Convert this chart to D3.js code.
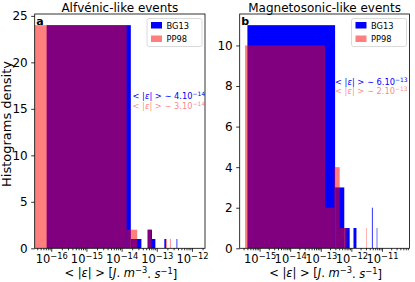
<!DOCTYPE html>
<html>
<head>
<meta charset="utf-8">
<script src="https://cdn.jsdelivr.net/npm/d3@7"></script>
<style>
  body { margin: 0; background: #fff; }
  text { font-family: "DejaVu Sans", sans-serif; }
</style>
</head>
<body>
<div id="chart"></div>
<script>
// panel a: Alfvénic-like events (linear-width bins, [first edge, last edge] + counts)
const alfBG13Range = [7.4e-17, 3.823e-13]
const alfBG13Counts = [24, 1, 0, 2, 1, 0, 0, 0, 0, 1, 0, 0, 0, 0, 0, 0, 0, 0, 0, 0, 1]
const alfPP98Range = [3e-17, 2.772e-13]
const alfPP98Counts = [24, 2, 0, 0, 2, 0, 0, 0, 0, 0, 0, 0, 0, 1, 0, 0, 0, 1, 0, 0]

// panel b: Magnetosonic-like events
const magBG13Range = [4e-16, 7.032e-12]
const magBG13Counts = [11, 3, 1, 0, 1, 0, 0, 0, 0, 0, 0, 0, 0, 0, 0, 0, 2, 0, 0, 0, 0, 0, 0, 1]
const magPP98Range = [3.36e-16, 3.1835e-12]
const magPP98Counts = [10, 2, 4, 1, 1, 0, 0, 0, 0, 0, 0, 0, 0, 0, 0, 0, 0, 0, 0, 0, 0, 0, 1]

const titles = ['Alfvénic-like events', 'Magnetosonic-like events']
const letters = ['a', 'b']
const seriesNames = ['BG13', 'PP98']
// mean dissipation annotations: [mantissa, exponent] for BG13 then PP98
const alfMeans = [['4.10', '−14'], ['3.10', '−14']]
const magMeans = [['6.10', '−13'], ['2.10', '−13']]

const xLimits = [[Math.pow(10, -16.47), Math.pow(10, -11.63)], [Math.pow(10, -15.65), Math.pow(10, -10.1)]]
const yLimits = [[0, 25.2], [0, 11.55]]
const yTickValues = [d3.range(0, 26, 5), d3.range(0, 11, 2)]

const width = 415, height = 282
const colors = { BG13: '#0000ff', PP98: '#ff0000' }

const svg = d3.select('#chart').append('svg')
  .attr('width', width).attr('height', height)

const panels = [
  { left: 34.7, right: 205, bg: [alfBG13Range, alfBG13Counts], pp: [alfPP98Range, alfPP98Counts], means: alfMeans, meanX: 132.5, meanY: 99 },
  { left: 239.7, right: 409.5, bg: [magBG13Range, magBG13Counts], pp: [magPP98Range, magPP98Counts], means: magMeans, meanX: 335, meanY: 84.5 },
]
const plotTop = 14, plotBottom = 248.3

function bins(range, counts) {
  const w = (range[1] - range[0]) / counts.length
  return counts.map((c, i) => ({ x0: range[0] + i * w, x1: range[0] + (i + 1) * w, count: c }))
    .filter(d => d.count > 0)
}

panels.forEach((p, pi) => {
  const x = d3.scaleLog().domain(xLimits[pi]).range([p.left, p.right])
  const y = d3.scaleLinear().domain(yLimits[pi]).range([plotBottom, plotTop])

  const g = svg.append('g')
  g.append('clipPath').attr('id', 'clip' + pi)
    .append('rect').attr('x', p.left).attr('y', plotTop)
    .attr('width', p.right - p.left).attr('height', plotBottom - plotTop)

  const plot = g.append('g').attr('clip-path', `url(#clip${pi})`)
  const drawHist = (data, color, opacity) => {
    plot.append('g').attr('fill', color).attr('fill-opacity', opacity)
      .selectAll('rect')
      .data(bins(data[0], data[1]))
      .join('rect')
      .attr('x', d => x(d.x0))
      .attr('width', d => x(d.x1) - x(d.x0))
      .attr('y', d => y(d.count))
      .attr('height', d => y(0) - y(d.count))
  }
  drawHist(p.bg, colors.BG13, 1)
  drawHist(p.pp, colors.PP98, 0.5)

  // x axis: decades + minor ticks
  const lo = Math.ceil(Math.log10(xLimits[pi][0])), hi = Math.floor(Math.log10(xLimits[pi][1]))
  const majors = d3.range(lo, hi + 1).map(e => Math.pow(10, e))
  const minors = []
  d3.range(lo - 1, hi + 1).forEach(e => {
    d3.range(2, 10).forEach(m => {
      const v = m * Math.pow(10, e)
      if (v > xLimits[pi][0] && v < xLimits[pi][1]) minors.push(v)
    })
  })
  g.append('g').attr('transform', `translate(0,${plotBottom})`)
    .call(d3.axisBottom(x).tickValues(minors).tickSize(2).tickFormat(''))
    .call(a => a.select('.domain').remove())
  const xAx = g.append('g').attr('transform', `translate(0,${plotBottom})`)
    .call(d3.axisBottom(x).tickValues(majors).tickSize(3.5).tickPadding(3))
    .call(a => a.select('.domain').remove())
  xAx.selectAll('.tick text')
    .attr('font-size', 11.5).attr('fill', '#000')
    .each(function(d) {
      const t = d3.select(this).text(null)
      t.append('tspan').text('10')
      t.append('tspan').attr('dy', '-0.5em').attr('font-size', '8.3px')
        .text('−' + Math.abs(Math.round(Math.log10(d))))
    })

  // y axis
  g.append('g').attr('transform', `translate(${p.left},0)`)
    .call(d3.axisLeft(y).tickValues(yTickValues[pi]).tickSize(3.5).tickPadding(3.5))
    .call(a => a.select('.domain').remove())
    .call(a => a.selectAll('.tick text').attr('font-size', 12).attr('fill', '#000'))

  g.selectAll('.tick line').attr('stroke', '#000').attr('stroke-width', 0.8)

  // frame
  g.append('rect').attr('x', p.left).attr('y', plotTop)
    .attr('width', p.right - p.left).attr('height', plotBottom - plotTop)
    .attr('fill', 'none').attr('stroke', '#000').attr('stroke-width', 0.8)

  const cx = (p.left + p.right) / 2
  g.append('text').attr('x', cx).attr('y', 11.5).attr('text-anchor', 'middle')
    .attr('font-size', 12).text(titles[pi])

  // x label
  const xl = g.append('text').attr('x', cx + 1).attr('y', 276.5).attr('text-anchor', 'middle')
    .attr('font-size', 11.5)
  xl.append('tspan').text('< |')
  xl.append('tspan').attr('font-style', 'italic').text('ε')
  xl.append('tspan').text('| > [')
  xl.append('tspan').attr('font-style', 'italic').text('J')
  xl.append('tspan').text('. ')
  xl.append('tspan').attr('font-style', 'italic').text('m')
  xl.append('tspan').attr('dy', '-0.45em').attr('font-size', '8.3px').text('−3')
  xl.append('tspan').attr('dy', '0.45em').text('. ')
  xl.append('tspan').attr('font-style', 'italic').text('s')
  xl.append('tspan').attr('dy', '-0.45em').attr('font-size', '8.3px').text('−1')
  xl.append('tspan').attr('dy', '0.45em').text(']')

  // panel letter
  g.append('text').attr('x', p.left + 1.5).attr('y', 24.5)
    .attr('font-size', 11).attr('font-weight', 'bold').text(letters[pi])

  // legend
  const lg = g.append('g').attr('transform', `translate(${p.right - 58},${plotTop + 4.5})`)
  lg.append('rect').attr('width', 55).attr('height', 28).attr('rx', 2)
    .attr('fill', '#fff').attr('fill-opacity', 0.8)
    .attr('stroke', '#d0d0d0').attr('stroke-width', 0.8)
  seriesNames.forEach((name, i) => {
    lg.append('rect').attr('x', 4).attr('y', 3.5 + i * 13.5).attr('width', 11).attr('height', 6.5)
      .attr('fill', colors[name]).attr('fill-opacity', name === 'PP98' ? 0.5 : 1)
    lg.append('text').attr('x', 19.5).attr('y', 10 + i * 13.5)
      .attr('font-size', 8.3).text(name)
  })

  // mean annotations
  p.means.forEach((m, i) => {
    const t = g.append('text').attr('x', p.meanX).attr('y', p.meanY + i * 9.5)
      .attr('font-size', 8.3).attr('fill', colors[seriesNames[i]])
      .attr('fill-opacity', i === 1 ? 0.5 : 1)
    t.append('tspan').text('< |')
    t.append('tspan').attr('font-style', 'italic').text('ε')
    t.append('tspan').text('| > ∼ ' + m[0])
    t.append('tspan').attr('dy', '-0.45em').attr('font-size', '6px').text(m[1])
  })
})

// shared y label on left panel
svg.append('text').attr('transform', 'translate(11,124) rotate(-90)')
  .attr('text-anchor', 'middle').attr('font-size', 13).text('Histograms density')
</script>
</body>
</html>
